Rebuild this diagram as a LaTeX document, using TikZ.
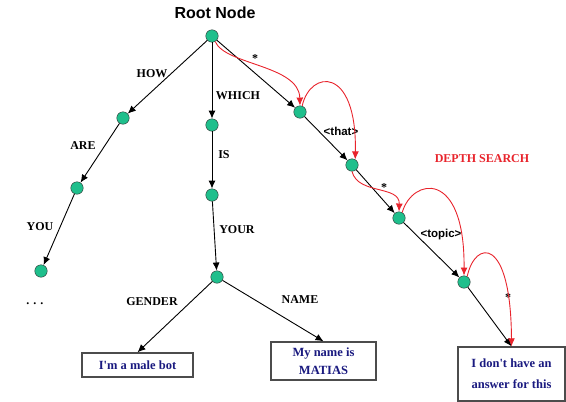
\documentclass[tikz,border=0pt]{standalone}
\usepackage{fontspec}
\setmainfont{Liberation Serif}
\setsansfont{Liberation Sans}
\usetikzlibrary{arrows.meta}
\definecolor{nodegreen}{HTML}{1FBF8C}
\definecolor{replyblue}{HTML}{1A1A80}
\definecolor{searchred}{HTML}{E8242C}

\begin{document}
\begin{tikzpicture}[x=1pt, y=-1pt,
        word/.style={circle, draw=black!80, fill=nodegreen, minimum size=12.5pt, inner sep=0pt},
        reply/.style={draw=black!70, line width=1.4pt, fill=white, text=replyblue, align=center, inner sep=0pt, font=\fontsize{12.5}{18}\selectfont\bfseries},
        pattern/.style={font=\fontsize{12}{14}\selectfont\bfseries},
        wild/.style={font=\sffamily\fontsize{11.5}{14}\selectfont\bfseries},
        arrow/.style={-{Latex[length=8pt, width=7pt]}, line width=0.9pt},
        search/.style={-{Latex[length=8pt, width=7pt]}, line width=0.9pt, draw=searchred}
    ]
        \useasboundingbox (0,0) rectangle (566,402);

        % Title
        \node[font=\sffamily\fontsize{16}{18}\selectfont\bfseries] (title) at (215,13) {Root Node};

        % Word nodes
        \node[word] (root) at (212,36) {};
        \node[word] (how) at (123,118) {};
        \node[word] (which) at (212,125) {};
        \node[word] (star1) at (300,112) {};
        \node[word] (are) at (77,188) {};
        \node[word] (is) at (212,195) {};
        \node[word] (that) at (352,165) {};
        \node[word] (you) at (41,271) {};
        \node[word] (your) at (217,277) {};
        \node[word] (star2) at (399,218) {};
        \node[word] (topic) at (464,282) {};

        % Answers
        \node[reply, minimum width=111pt, minimum height=24pt] (male) at (137.5,365) {I\textquotesingle m a male bot};
        \node[reply, minimum width=105pt, minimum height=38pt] (matias) at (323.5,361) {My name is\\MATIAS};
        \node[reply, minimum width=107pt, minimum height=54pt, font=\fontsize{12.5}{21}\selectfont\bfseries] (noanswer) at (511.5,374) {I don\textquotesingle t have an\\answer for this};

        % Edge labels
        \node[pattern] (lhow) at (152,74) {HOW};
        \node[pattern] (lwhich) at (238,96) {WHICH};
        \node[pattern] (lstar1) at (255,59) {*};
        \node[pattern] (lare) at (83,146) {ARE};
        \node[pattern] (lis) at (224,155) {IS};
        \node[wild] (lthat) at (341,131) {<that>};
        \node[pattern] (lyou) at (40,227) {YOU};
        \node[pattern] (lyour) at (237,230) {YOUR};
        \node[pattern] (lstar2) at (384,188) {*};
        \node[wild] (ltopic) at (441,235) {<topic>};
        \node[pattern] (lgender) at (152,302) {GENDER};
        \node[pattern] (lname) at (300,300) {NAME};
        \node[pattern] (lstar3) at (508,298) {*};
        \node[pattern] (dots) at (35,304) {. . .};
        \node[pattern, text=searchred] (depth) at (482,159) {DEPTH SEARCH};

        % Tree
        \foreach \a/\b in {root/how, root/which, root/star1, how/are, are/you, which/is, is/your, star1/that, that/star2, star2/topic} {
            \draw[arrow] (\a) -- (\b);
        }
        \draw[arrow] (your) -- (male.north);
        \draw[arrow] (your) -- (matias.north);
        \draw[arrow] (topic) -- (noanswer.north);

        % Depth search
        \draw[search] (root.-60) .. controls (225,65) and (299,65) .. (star1.north);
        \draw[search] (star1.70) .. controls (310,70) and (357,65) .. (that.60);
        \draw[search] (that.south) .. controls (358,195) and (400,185) .. (star2.north);
        \draw[search] (star2.60) .. controls (412,178) and (465,168) .. (topic.north);
        \draw[search] (topic.60) .. controls (475,240) and (511,235) .. (noanswer.north);
    \end{tikzpicture}
\end{document}
